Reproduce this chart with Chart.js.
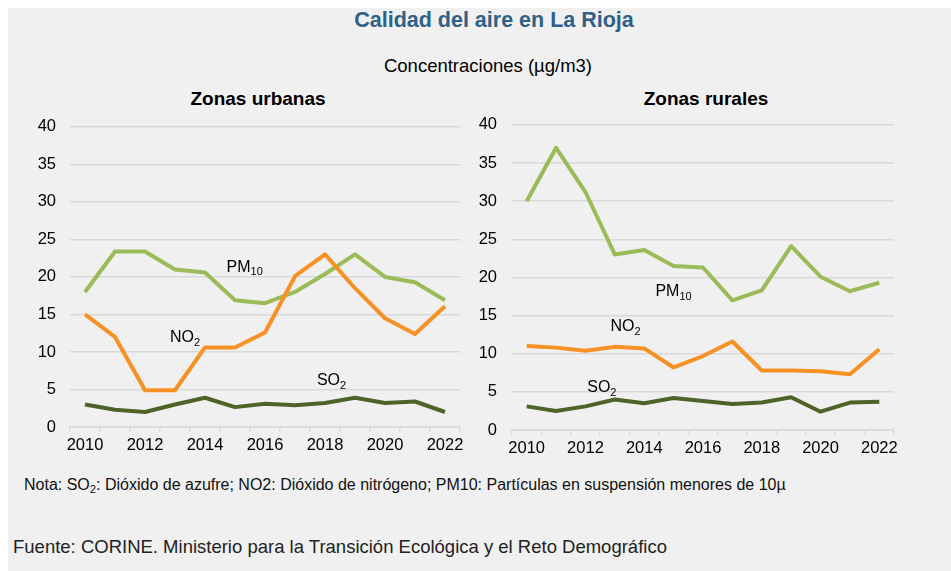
<!DOCTYPE html>
<html lang="es">
<head>
<meta charset="UTF-8" />
<title>Calidad del aire en La Rioja</title>
<script src="https://cdn.jsdelivr.net/npm/chart.js"></script>
<style>
  body { margin: 0; background: #fff; font-family: "Liberation Sans", Arial, sans-serif; }
  #panel { position: absolute; left: 8px; top: 8px; width: 943px; height: 563px; background: #f0f0f0; }
  .txt { position: absolute; white-space: nowrap; color: #000; }
  #title { left: 0; width: 988px; top: 10px; line-height: 21.5px; text-align: center; font-weight: bold; font-size: 21.5px; color: #2e6089; }
  #unit { left: 0; width: 976px; top: 57px; line-height: 18.5px; text-align: center; font-size: 18.5px; }
  .sub { font-size: 0.7em; position: relative; top: 0.3em; }
  #t1 { left: 158px; width: 200px; top: 89px; line-height: 19px; text-align: center; font-weight: bold; font-size: 19px; }
  #t2 { left: 606px; width: 200px; top: 89px; line-height: 19px; text-align: center; font-weight: bold; font-size: 19px; }
  #note { left: 24px; top: 477px; line-height: 16px; font-size: 16px; color: #111; }
  #source { left: 13px; top: 538px; line-height: 18.5px; font-size: 18.5px; color: #222; }
  canvas { position: absolute; }
  #cUrb { left: 0; top: 103px; }
  #cRur { left: 470px; top: 100px; }
</style>
</head>
<body>
<div id="panel"></div>
<div class="txt" id="title">Calidad del aire en La Rioja</div>
<div class="txt" id="unit">Concentraciones (µg/m3)</div>
<div class="txt" id="t1">Zonas urbanas</div>
<div class="txt" id="t2">Zonas rurales</div>
<div class="txt" id="note">Nota: SO<span class="sub">2</span>: Dióxido de azufre; NO2: Dióxido de nitrógeno; PM10: Partículas en suspensión menores de 10µ</div>
<div class="txt" id="source">Fuente: CORINE. Ministerio para la Transición Ecológica y el Reto Demográfico</div>
<canvas id="cUrb" width="470" height="359"></canvas>
<canvas id="cRur" width="434" height="365"></canvas>

<script>
const years = ['2010', '2011', '2012', '2013', '2014', '2015', '2016', '2017', '2018', '2019', '2020', '2021', '2022'];

const urbanPM10 = [18, 23.4, 23.4, 21, 20.6, 16.9, 16.5, 18, 20.4, 23, 20, 19.3, 16.9];
const urbanNO2 = [15, 12, 4.9, 4.9, 10.6, 10.6, 12.6, 20.1, 23, 18.5, 14.5, 12.4, 16.1];
const urbanSO2 = [3, 2.3, 2, 3, 3.9, 2.65, 3.1, 2.9, 3.2, 3.9, 3.2, 3.4, 2];

const ruralPM10 = [30, 37, 31.2, 23, 23.6, 21.5, 21.3, 17, 18.3, 24.1, 20.1, 18.2, 19.3];
const ruralNO2 = [11, 10.8, 10.4, 10.9, 10.7, 8.2, 9.7, 11.6, 7.8, 7.8, 7.7, 7.3, 10.6];
const ruralSO2 = [3.1, 2.5, 3.1, 4, 3.5, 4.2, 3.8, 3.4, 3.6, 4.3, 2.4, 3.6, 3.7];

const colPM10 = '#9bbb59';
const colNO2 = '#f79124';
const colSO2 = '#4f6228';

// series names drawn inside the plot, with subscript
const seriesLabels = {
    id: 'seriesLabels',
    afterDatasetsDraw(chart, args, opts) {
        const ctx = chart.ctx;
        const xs = chart.scales.x, ys = chart.scales.y;
        ctx.save();
        ctx.fillStyle = '#000';
        ctx.textBaseline = 'middle';
        ctx.textAlign = 'left';
        opts.items.forEach((it) => {
            const px = xs.getPixelForValue(it.x);
            const py = ys.getPixelForValue(it.y);
            ctx.font = '16px "Liberation Sans", Arial, sans-serif';
            ctx.fillText(it.text, px, py);
            const w = ctx.measureText(it.text).width;
            ctx.font = '11px "Liberation Sans", Arial, sans-serif';
            ctx.fillText(it.sub, px + w, py + 5);
        });
        ctx.restore();
    },
};

function makeChart(id, pm, no2, so2, axisWidth, tickPad, labels) {
    const ds = (data, color) => ({
        data: data,
        borderColor: color,
        borderWidth: 4,
        pointRadius: 0,
        tension: 0,
        fill: false,
        borderJoinStyle: 'round',
    });
    return new Chart(document.getElementById(id), {
        type: 'line',
        data: {
            labels: years,
            datasets: [ds(no2, colNO2), ds(pm, colPM10), ds(so2, colSO2)],
        },
        plugins: [seriesLabels],
        options: {
            responsive: false,
            animation: false,
            devicePixelRatio: 1,
            layout: { padding: { top: 8, right: 10, left: 0, bottom: 0 } },
            plugins: {
                legend: { display: false },
                tooltip: { enabled: false },
                seriesLabels: { items: labels },
            },
            scales: {
                x: {
                    offset: true,
                    grid: { offset: true, drawOnChartArea: false, color: '#d9d9d9', lineWidth: 1.5, tickLength: 5 },
                    border: { color: '#d9d9d9', width: 1.5 },
                    ticks: {
                        autoSkip: false,
                        maxRotation: 0,
                        padding: 4,
                        color: '#000',
                        font: { size: 16.5, family: '"Liberation Sans", Arial, sans-serif' },
                        callback: function (v, i) {
                            return i % 2 === 0 ? this.getLabelForValue(v) : '';
                        },
                    },
                    afterFit: (s) => { s.height = 35; },
                },
                y: {
                    min: 0,
                    max: 40,
                    grid: { color: '#d9d9d9', lineWidth: 1.5, drawTicks: false },
                    border: { display: false },
                    ticks: {
                        stepSize: 5,
                        padding: tickPad,
                        color: '#000',
                        font: { size: 16.5, family: '"Liberation Sans", Arial, sans-serif' },
                    },
                    afterFit: (s) => { s.width = axisWidth; },
                },
            },
        },
    });
}

makeChart('cUrb', urbanPM10, urbanNO2, urbanSO2, 70, 14, [
    { text: 'PM', sub: '10', x: 4.72, y: 21.3 },
    { text: 'NO', sub: '2', x: 2.83, y: 11.9 },
    { text: 'SO', sub: '2', x: 7.73, y: 6.2 },
]);

makeChart('cRur', ruralPM10, ruralNO2, ruralSO2, 42, 15, [
    { text: 'PM', sub: '10', x: 4.38, y: 18.1 },
    { text: 'NO', sub: '2', x: 2.85, y: 13.5 },
    { text: 'SO', sub: '2', x: 2.06, y: 5.56 },
]);
</script>
</body>
</html>
